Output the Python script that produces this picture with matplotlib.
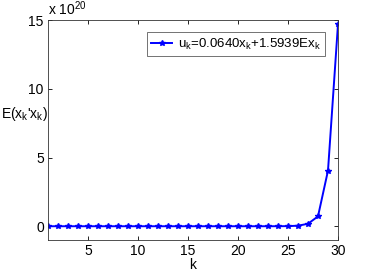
"""E(x_k'x_k) vs k, matlab-like figure."""

import matplotlib
matplotlib.use("Agg")
import matplotlib.pyplot as plt

plt.rcParams["font.family"] = ["Liberation Sans", "DejaVu Sans"]
plt.rcParams["mathtext.fontset"] = "custom"
plt.rcParams["mathtext.rm"] = "Liberation Sans"
plt.rcParams["mathtext.it"] = "Liberation Sans"

# values in units of 1e20
k = list(range(1, 31))
ex = [0.0] * 22 + [0.0005, 0.002, 0.008, 0.04, 0.18, 0.72, 4.05, 14.7]
scale_exp = 20

fig = plt.figure(figsize=(3.74, 2.73), dpi=100)
ax = fig.add_axes([48 / 374, 33 / 273, 290 / 374, 220 / 273])
ax.plot(k, ex, color="#0000ff", marker="*", markersize=4, linewidth=1.4,
        label=r"u$_k$=0.0640x$_k$+1.5939Ex$_k$")

ax.set_xlim(1, 30)
ax.set_ylim(-1, 15)
ax.set_xticks([5, 10, 15, 20, 25, 30])
ax.set_yticks([0, 5, 10, 15])
ax.tick_params(direction="in", length=3, width=0.6, labelsize=10,
               top=True, right=True, pad=3)
for s in ax.spines.values():
    s.set_linewidth(0.6)
    s.set_color("#333333")

ax.set_xlabel("k", fontsize=10, labelpad=0)
ax.set_ylabel(r"E(x$_k$'x$_k$)", fontsize=10, rotation=0, labelpad=0)
ax.yaxis.set_label_coords(-0.08, 0.53)
ax.text(0.0, 1.01, r"x 10$^{%d}$" % scale_exp, transform=ax.transAxes,
        fontsize=10, ha="left", va="bottom")

leg = ax.legend(loc="upper right", bbox_to_anchor=(0.955, 0.945), fontsize=9.5,
                frameon=True, fancybox=False, edgecolor="#333333",
                handlelength=1.6, handletextpad=0.4, borderpad=0.35,
                borderaxespad=0)
leg.get_frame().set_linewidth(0.6)

fig.savefig("out.png", dpi=100)
